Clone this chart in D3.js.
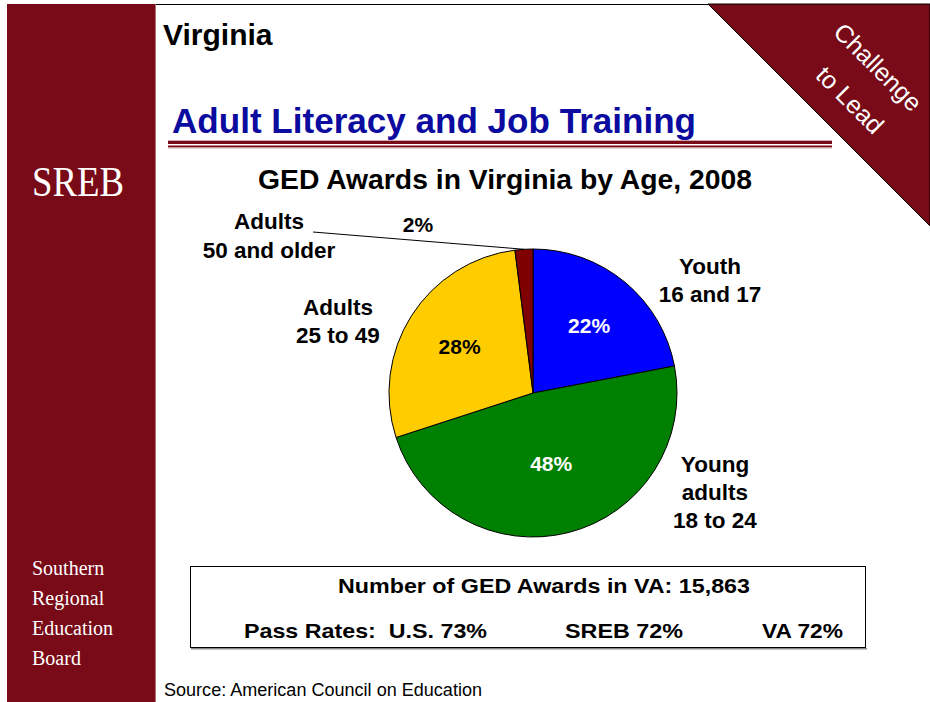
<!DOCTYPE html>
<html>
<head>
<meta charset="utf-8">
<script src="https://cdn.jsdelivr.net/npm/d3@7/dist/d3.min.js"></script>
<style>
  html, body { margin: 0; padding: 0; background: #fff; }
  svg { display: block; }
  .sans { font-family: "Liberation Sans", Arial, Helvetica, sans-serif; }
  .serif { font-family: "Liberation Serif", "Times New Roman", serif; }
</style>
</head>
<body>
<svg id="chart" width="930" height="702"></svg>
<script>
// GED awards in Virginia by age group, 2008 (percent of all awards)
const categories = ["Youth 16 and 17", "Young adults 18 to 24", "Adults 25 to 49", "Adults 50 and older"];
const shares = [22, 48, 28, 2];
const sliceColors = ["#0000ff", "#008000", "#ffcc00", "#7f0000"];
const pctTextColors = ["#ffffff", "#ffffff", "#000000", "#000000"];

// Outside labels, one array of lines per category
const categoryLabelLines = [
  ["Youth", "16 and 17"],
  ["Young", "adults", "18 to 24"],
  ["Adults", "25 to 49"],
  ["Adults", "50 and older"]
];

const totalAwards = "15,863";
const passRateNames = ["U.S.", "SREB", "VA"];
const passRates = [73, 72, 72];

const sidebarLines = ["Southern", "Regional", "Education", "Board"];

const maroon = "#790a17";
const svg = d3.select("#chart");

// ---- frame: sidebar, top rule, corner banner ----
svg.append("rect").attr("x", 0).attr("y", 0).attr("width", 930).attr("height", 702).attr("fill", "#fff");
svg.append("rect").attr("x", 7).attr("y", 4).attr("width", 148).attr("height", 698).attr("fill", maroon);
svg.append("line").attr("x1", 155.5).attr("x2", 155.5).attr("y1", 4).attr("y2", 702)
  .attr("stroke", "#b3707a").attr("stroke-width", 1);
svg.append("line").attr("x1", 156).attr("x2", 930).attr("y1", 4.5).attr("y2", 4.5)
  .attr("stroke", "#000").attr("stroke-width", 1.2);

svg.append("polygon").attr("points", "708,4 930,4 930,226")
  .attr("fill", maroon).attr("stroke", "#000").attr("stroke-width", 1);

const banner = svg.append("g").attr("class", "sans").attr("fill", "#fff")
  .attr("font-size", 25).attr("text-anchor", "middle");
banner.append("text").attr("transform", "translate(878,67) rotate(45)")
  .attr("dy", "0.35em").text("Challenge");
banner.append("text").attr("transform", "translate(850,100) rotate(45)")
  .attr("dy", "0.35em").text("to Lead");

// SREB mark and board name
svg.append("text").attr("class", "serif").attr("x", 32).attr("y", 196)
  .attr("font-size", 43).attr("fill", "#fff")
  .attr("textLength", 92).attr("lengthAdjust", "spacingAndGlyphs").text("SREB");
svg.append("g").attr("class", "serif").attr("fill", "#fff").attr("font-size", 20)
  .selectAll("text").data(sidebarLines).join("text")
  .attr("x", 32).attr("y", (d, i) => 575 + i * 30).text(d => d);

// ---- headings ----
svg.append("text").attr("class", "sans").attr("x", 163).attr("y", 45)
  .attr("font-size", 30).attr("font-weight", "bold").attr("fill", "#000").text("Virginia");
svg.append("text").attr("class", "sans").attr("x", 172).attr("y", 133)
  .attr("font-size", 35).attr("font-weight", "bold").attr("fill", "#0b0b9f")
  .attr("textLength", 524).attr("lengthAdjust", "spacingAndGlyphs")
  .text("Adult Literacy and Job Training");

// double rule under the heading
svg.append("rect").attr("x", 168).attr("y", 140).attr("width", 664).attr("height", 1).attr("fill", "#d2a9ae");
svg.append("rect").attr("x", 168).attr("y", 141).attr("width", 664).attr("height", 3).attr("fill", maroon);
svg.append("rect").attr("x", 168).attr("y", 145.5).attr("width", 664).attr("height", 2).attr("fill", maroon);
svg.append("rect").attr("x", 168).attr("y", 147.5).attr("width", 664).attr("height", 1).attr("fill", "#d2a9ae");

svg.append("text").attr("class", "sans").attr("x", 505).attr("y", 189)
  .attr("text-anchor", "middle").attr("font-size", 27).attr("font-weight", "bold")
  .attr("textLength", 494).attr("lengthAdjust", "spacingAndGlyphs")
  .text("GED Awards in Virginia by Age, 2008");

// ---- pie ----
const cx = 533, cy = 393, radius = 144;
const pie = d3.pie().sort(null).value(d => d).startAngle(0).endAngle(2 * Math.PI);
const arcs = pie(shares);
const arc = d3.arc().innerRadius(0).outerRadius(radius);
const pieG = svg.append("g").attr("transform", `translate(${cx},${cy})`);

pieG.selectAll("path").data(arcs).join("path")
  .attr("d", arc)
  .attr("fill", (d, i) => sliceColors[i])
  .attr("stroke", "#000").attr("stroke-width", 1).attr("stroke-linejoin", "round");

// percent labels inside the slices
const insideRadius = [88, 73, 87];
pieG.selectAll("text.pct").data(arcs.slice(0, 3)).join("text")
  .attr("class", "pct sans")
  .attr("transform", (d, i) => {
    const a = d3.arc().innerRadius(insideRadius[i]).outerRadius(insideRadius[i]);
    const [x, y] = a.centroid(d);
    return `translate(${x},${y})`;
  })
  .attr("text-anchor", "middle").attr("dy", "0.36em")
  .attr("font-size", 21).attr("font-weight", "bold")
  .attr("fill", (d, i) => pctTextColors[i])
  .text(d => d.value + "%");

// smallest slice: label outside with a leader line
const small = arcs[3];
const edgeArc = d3.arc().innerRadius(radius).outerRadius(radius);
const [ex, ey] = edgeArc.centroid(small);
svg.append("line").attr("x1", 313).attr("y1", 232).attr("x2", cx + ex).attr("y2", cy + ey)
  .attr("stroke", "#000").attr("stroke-width", 1);
svg.append("text").attr("class", "sans").attr("x", 418).attr("y", 232)
  .attr("text-anchor", "middle").attr("font-size", 21).attr("font-weight", "bold")
  .text(small.value + "%");

// category labels around the pie
const catAnchor = [
  { x: 710, y: 274, step: 28 },
  { x: 715, y: 472, step: 28 },
  { x: 338, y: 315, step: 28 },
  { x: 269, y: 229, step: 29 }
];
const catG = svg.append("g").attr("class", "sans").attr("font-size", 22.5)
  .attr("font-weight", "bold").attr("text-anchor", "middle").attr("fill", "#000");
categoryLabelLines.forEach((lines, i) => {
  const p = catAnchor[i];
  catG.selectAll(null).data(lines).join("text")
    .attr("x", p.x).attr("y", (d, j) => p.y + j * p.step).text(d => d);
});

// ---- summary box ----
svg.append("rect").attr("x", 191).attr("y", 648).attr("width", 676).attr("height", 1.5).attr("fill", "#888");
svg.append("rect").attr("x", 190.5).attr("y", 566.5).attr("width", 675).attr("height", 81)
  .attr("fill", "#fff").attr("stroke", "#000").attr("stroke-width", 1);

svg.append("text").attr("class", "sans").attr("x", 544).attr("y", 593)
  .attr("text-anchor", "middle").attr("font-size", 21).attr("font-weight", "bold")
  .attr("textLength", 412).attr("lengthAdjust", "spacingAndGlyphs")
  .text("Number of GED Awards in VA: " + totalAwards);

const rateSpecs = [
  { x: 244, w: 243, prefix: "Pass Rates:\u00a0\u00a0" },
  { x: 565, w: 118, prefix: "" },
  { x: 762, w: 81, prefix: "" }
];
svg.append("g").attr("class", "sans").attr("font-size", 21).attr("font-weight", "bold")
  .selectAll("text").data(passRates).join("text")
  .attr("x", (d, i) => rateSpecs[i].x).attr("y", 638)
  .attr("textLength", (d, i) => rateSpecs[i].w).attr("lengthAdjust", "spacingAndGlyphs")
  .text((d, i) => rateSpecs[i].prefix + passRateNames[i] + " " + d + "%");

// source line
svg.append("text").attr("class", "sans").attr("x", 164).attr("y", 696)
  .attr("font-size", 17.5).attr("fill", "#000")
  .attr("textLength", 318).attr("lengthAdjust", "spacingAndGlyphs")
  .text("Source: American Council on Education");
</script>
</body>
</html>
